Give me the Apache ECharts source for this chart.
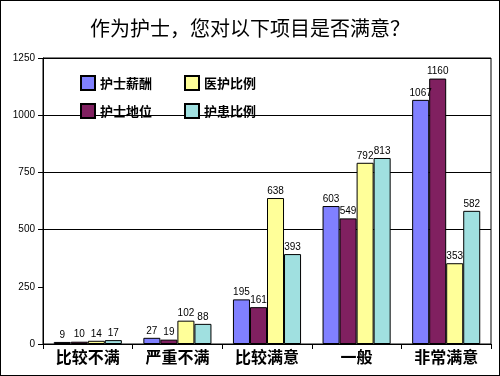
<!DOCTYPE html>
<html>
<head>
<meta charset="utf-8">
<script src="https://cdn.jsdelivr.net/npm/echarts@6/dist/echarts.min.js"></script>
<style>
  html, body { margin: 0; padding: 0; background: #fff; }
  #wrap { position: relative; width: 500px; height: 376px; }
  #chart { width: 500px; height: 376px; }
  #frame { position: absolute; left: 0; top: 0; width: 498px; height: 374px; border: 1px solid #000; pointer-events: none; }
</style>
</head>
<body>
<div id="wrap">
  <div id="chart"></div>
  <div id="frame"></div>
</div>
<script>
// categories and series values
const categories = ['比较不满', '严重不满', '比较满意', '一般', '非常满意'];
const seriesNames = ['护士薪酬', '护士地位', '医护比例', '护患比例'];
const pay = [9, 27, 195, 603, 1067];
const status = [10, 19, 161, 549, 1160];
const doctorNurse = [14, 102, 638, 792, 353];
const nursePatient = [17, 88, 393, 813, 582];
const yTicks = [0, 250, 500, 750, 1000, 1250];

const colors = ['#8080ff', '#802060', '#ffff99', '#a0e0e0'];
const values = [pay, status, doctorNurse, nursePatient];

const chart = echarts.init(document.getElementById('chart'));

const series = seriesNames.map(function (name, i) {
    return {
        name: name,
        type: 'bar',
        data: values[i],
        barGap: '0%',
        barCategoryGap: '24%',
        itemStyle: { color: colors[i], borderColor: '#000', borderWidth: 1 },
        label: {
            show: true,
            position: 'top',
            distance: 2,
            color: '#000',
            fontSize: 10,
            fontFamily: 'Liberation Sans'
        }
    };
});

const legendCommon = {
    orient: 'vertical',
    icon: 'rect',
    itemWidth: 14,
    itemHeight: 14,
    itemGap: 12,
    itemStyle: { borderColor: '#000', borderWidth: 2 },
    textStyle: { fontSize: 13, fontWeight: 'bold', color: '#000', fontFamily: 'Noto Sans CJK SC' },
    selectedMode: false
};

chart.setOption({
    animation: false,
    backgroundColor: '#fff',
    color: colors,
    title: {
        text: '作为护士，您对以下项目是否满意？',
        left: 'center',
        top: 13,
        textStyle: { fontSize: 20, fontWeight: 'normal', color: '#000', fontFamily: 'Noto Sans CJK SC' }
    },
    legend: [
        Object.assign({ left: 75, top: 70, data: [seriesNames[0], seriesNames[1]] }, legendCommon),
        Object.assign({ left: 179, top: 70, data: [seriesNames[2], seriesNames[3]] }, legendCommon)
    ],
    grid: {
        left: 43,
        right: 9,
        top: 58,
        bottom: 32,
        show: true,
        borderColor: '#000',
        borderWidth: 1,
        backgroundColor: '#fff'
    },
    xAxis: {
        type: 'category',
        data: categories,
        axisLine: { lineStyle: { color: '#000', width: 1 } },
        axisTick: { show: true, length: 5, lineStyle: { color: '#000' } },
        axisLabel: {
            color: '#000',
            fontSize: 16,
            fontWeight: 'bold',
            fontFamily: 'Noto Sans CJK SC',
            margin: 5
        }
    },
    yAxis: {
        type: 'value',
        min: yTicks[0],
        max: yTicks[yTicks.length - 1],
        interval: 250,
        axisLine: { show: true, lineStyle: { color: '#000', width: 1 } },
        axisTick: { show: true, length: 5, lineStyle: { color: '#000' } },
        axisLabel: {
            color: '#000',
            fontSize: 10,
            fontFamily: 'Liberation Sans',
            margin: 8,
            formatter: function (v) { return String(v); }
        },
        splitLine: {
            show: true,
            lineStyle: { color: ['#000', 'rgba(0,0,0,0)', '#000', '#000', '#000', '#000'], width: 1 }
        }
    },
    series: series
});
</script>
</body>
</html>
